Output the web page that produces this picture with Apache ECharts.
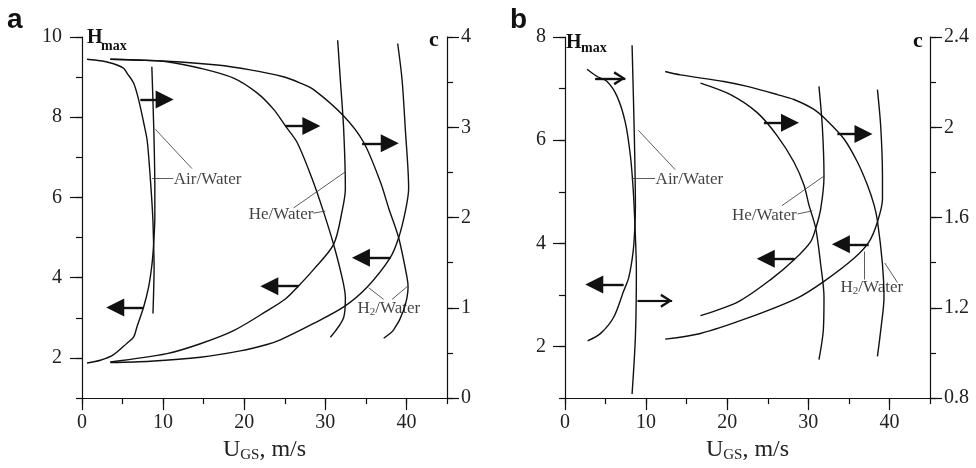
<!DOCTYPE html>
<html lang="en">
<head>
  <meta charset="UTF-8">
  <title>H_max and c vs U_GS</title>
  <style>
    html, body { margin: 0; padding: 0; background: #fff; }
    #chart { width: 976px; height: 468px; }
  </style>
</head>
<body>
  <div id="chart"></div>
  <script src="https://cdn.jsdelivr.net/npm/echarts@6/dist/echarts.min.js"></script>
  <script>
    // ---- panel a ----  [U_GS, c] for the "c" branches, [U_GS, H_max] for the "H" branches
    var airC_a = [[0.62, 3.753], [2.26, 3.737], [3.08, 3.723], [4.32, 3.69], [5.13, 3.654], [5.55, 3.6], [6.36, 3.49],
      [6.98, 3.307], [7.6, 3.053], [8.01, 2.87], [8.21, 2.687], [8.51, 2.323], [8.73, 1.995], [8.83, 1.702],
      [8.89, 1.447], [8.83, 1.174], [8.75, 0.937]];
    var airH_a = [[0.62, 1.876], [2.26, 1.943], [3.9, 2.083], [5.55, 2.369], [6.36, 2.517], [6.78, 2.78], [7.6, 3.272],
      [8.21, 3.765], [8.63, 4.338], [8.83, 4.831], [8.98, 5.51], [8.98, 6.23], [8.85, 7.7], [8.61, 9.26]];
    var heC_a = [[3.49, 3.753], [7.19, 3.743], [10.48, 3.726], [14.59, 3.654], [18.69, 3.545], [21.58, 3.381],
      [23.63, 3.198], [25.07, 3.015], [26.51, 2.834], [28.36, 2.432], [29.75, 2.071], [31.02, 1.702],
      [32.06, 1.338], [32.47, 1.112], [32.26, 0.893], [30.62, 0.674]];
    var heH_a = [[3.49, 1.9], [10.48, 2.108], [14.59, 2.354], [18.69, 2.681], [22.81, 3.174], [25.07, 3.469],
      [26.67, 3.789], [28.56, 4.208], [31.02, 4.831], [32.06, 5.653], [32.47, 6.226], [32.26, 7.704],
      [31.85, 8.935], [31.52, 9.92]];
    var h2C_a = [[3.49, 3.753], [10.48, 3.732], [16.65, 3.69], [20.75, 3.636], [24.7, 3.562], [26.92, 3.49],
      [28.56, 3.417], [32.26, 3.125], [34.72, 2.834], [36.78, 2.396], [37.81, 2.104], [39.04, 1.776],
      [40.07, 1.338], [40.2, 1.229], [39.65, 0.974], [38.42, 0.755], [37.19, 0.663]];
    var h2H_a = [[3.49, 1.886], [8.42, 1.918], [14.59, 2.017], [19.52, 2.177], [22.81, 2.337], [24.45, 2.452],
      [28.56, 2.861], [32.26, 3.272], [35.14, 3.765], [38.01, 4.503], [39.04, 4.996], [39.86, 5.653],
      [40.27, 6.226], [39.86, 7.704], [39.46, 8.935], [38.92, 9.838]];

    // ---- panel b ----
    var airC_b = [[2.72, 2.257], [3.95, 2.225], [5.19, 2.203], [6.42, 2.137], [7.44, 2.021], [8.06, 1.875],
      [8.4, 1.729], [8.62, 1.568], [8.8, 1.365], [8.68, 1.073], [8.27, 0.818]];
    var airH_b = [[2.79, 2.11], [4.36, 2.25], [6.0, 2.568], [7.23, 3.076], [7.85, 3.33], [8.4, 3.838], [8.62, 4.345],
      [8.68, 4.726], [8.56, 5.996], [8.27, 7.838]];
    var heC_b = [[16.7, 2.196], [20.41, 2.145], [23.7, 2.065], [26.17, 1.962], [28.22, 1.846], [29.46, 1.744],
      [30.07, 1.656], [30.9, 1.554], [31.52, 1.393], [31.93, 1.248], [31.85, 1.102], [31.31, 0.971]];
    var heH_b = [[16.7, 2.6], [21.4, 2.872], [25.51, 3.316], [28.31, 3.691], [30.28, 4.029], [30.9, 4.283],
      [31.52, 4.663], [31.93, 5.297], [31.73, 6.25], [31.31, 7.044]];
    var h2C_b = [[12.35, 2.247], [14.23, 2.232], [19.58, 2.203], [22.47, 2.181], [26.17, 2.145], [28.22, 2.123],
      [30.69, 2.079], [32.35, 2.028], [34.4, 1.948], [36.05, 1.846], [37.28, 1.744], [38.1, 1.656],
      [38.52, 1.585], [39.14, 1.393], [39.33, 1.248], [38.93, 1.102], [38.52, 0.985]];
    var h2H_b = [[12.35, 2.143], [16.7, 2.253], [22.47, 2.549], [28.64, 2.939], [31.93, 3.263], [35.63, 3.71],
      [37.48, 4.029], [38.52, 4.415], [39.14, 4.853], [39.14, 5.297], [38.93, 6.25], [38.52, 6.981]];

    // ---- axes ----
    var xTicks = [0, 5, 10, 15, 20, 25, 30, 35, 40, 45];
    var xLabels = [0, 10, 20, 30, 40];
    var hTicksA = [1, 2, 3, 4, 5, 6, 7, 8, 9, 10];
    var hLabelsA = [2, 4, 6, 8, 10];
    var cTicksA = [0, 0.5, 1, 1.5, 2, 2.5, 3, 3.5, 4];
    var cLabelsA = [0, 1, 2, 3, 4];
    var hTicksB = [1, 2, 3, 4, 5, 6, 7, 8];
    var hLabelsB = [2, 4, 6, 8];
    var cTicksB = [0.8, 1.0, 1.2, 1.4, 1.6, 1.8, 2.0, 2.2, 2.4];
    var cLabelsB = [0.8, 1.2, 1.6, 2, 2.4];

    // ---- annotations, in [U_GS, H_max] ----
    // arrows: [start, tip, level, kind]
    var arrowsA = [[7.19, 11.29, 8.44], [25.07, 29.38, 7.78], [34.53, 39.04, 7.35],
      [7.56, 3.0, 3.26], [26.71, 21.99, 3.79], [38.02, 33.29, 4.5]];
    var arrowsB = [[3.74, 7.44, 7.2, 'open'], [8.96, 13.21, 2.886, 'open'], [7.23, 2.51, 3.2],
      [24.52, 28.84, 6.34], [33.58, 37.9, 6.12], [28.31, 23.65, 3.7], [37.44, 32.91, 3.98]];
    var leadersA = [[8.63, 6.48, 11.26, 6.48], [9.04, 7.7, 13.56, 6.72], [28.52, 5.61, 30.0, 5.66],
      [26.09, 5.74, 32.47, 6.64], [35.34, 3.75, 37.19, 3.46], [38.22, 3.46, 40.15, 3.79]];
    var leadersB = [[8.22, 5.27, 11.11, 5.27], [9.05, 6.19, 13.58, 5.43], [28.68, 4.57, 30.49, 4.63],
      [26.74, 4.73, 31.89, 5.3], [36.86, 3.84, 36.86, 3.3], [39.42, 3.62, 40.99, 3.24]];
    var labelsA = [[11.26, 6.48, '{n|Air/Water}'], [20.5, 5.61, '{n|He/Water}'], [33.9, 3.27, '{n|H}{s|2}{n|/Water}']];
    var labelsB = [[11.11, 5.27, '{n|Air/Water}'], [20.53, 4.57, '{n|He/Water}'], [33.9, 3.18, '{n|H}{s|2}{n|/Water}']];

    var ink = '#111';
    var serif = 'Liberation Serif';
    var chevron = 'path://M0,9L5,0L10,9L8.4,10L5,3.4L1.6,10Z';

    function mainAxis(grid, pos, min, max, ticks, labels, margin) {
      return {
        type: 'value', gridIndex: grid, position: pos, min: min, max: max,
        axisLine: { show: true, onZero: false, lineStyle: { color: ink, width: 1.2 } },
        axisTick: { show: true, length: 6, customValues: ticks, lineStyle: { color: ink, width: 1.2 } },
        axisLabel: { customValues: labels, margin: margin, fontFamily: serif, fontSize: 20, color: '#222' },
        splitLine: { show: false }
      };
    }

    function majorAxis(grid, pos, min, max, labels) {
      return {
        type: 'value', gridIndex: grid, position: pos, min: min, max: max,
        axisLine: { show: false, onZero: false },
        axisTick: { show: true, length: 12, customValues: labels, lineStyle: { color: ink, width: 1.2 } },
        axisLabel: { show: false },
        splitLine: { show: false }
      };
    }

    function xAxisTitle(ax) {
      ax.name = '{u|U}{s|GS}{u|, m/s}';
      ax.nameLocation = 'middle';
      ax.nameGap = 36;
      ax.nameTextStyle = {
        color: '#222', fontFamily: serif,
        rich: {
          u: { fontFamily: serif, fontSize: 24, lineHeight: 25, verticalAlign: 'top', color: '#222' },
          s: { fontFamily: serif, fontSize: 15, lineHeight: 15, verticalAlign: 'bottom', color: '#222' }
        }
      };
      return ax;
    }

    function curve(data, xi, yi) {
      return {
        type: 'line', xAxisIndex: xi, yAxisIndex: yi, data: data,
        symbol: 'none', smooth: 0.3, silent: true,
        lineStyle: { color: ink, width: 1.4 }
      };
    }

    function annotations(xi, yi, arrows, leaders, labels) {
      var lines = [];
      leaders.forEach(function (l) {
        lines.push([
          { coord: [l[0], l[1]], symbol: 'none', lineStyle: { width: 0.8, color: '#333' } },
          { coord: [l[2], l[3]], symbol: 'none', lineStyle: { width: 0.8, color: '#333' } }
        ]);
      });
      arrows.forEach(function (a) {
        var dir = a[1] > a[0] ? 1 : -1;
        if (a[3] === 'open') {
          lines.push([
            { coord: [a[0], a[2]], symbol: 'none', lineStyle: { width: 2.2, color: ink } },
            { coord: [a[1], a[2]], symbol: 'none', lineStyle: { width: 2.2, color: ink } }
          ]);
          lines.push([
            { coord: [a[0], a[2]], symbol: 'none', lineStyle: { width: 2.2, color: ink } },
            { coord: [a[1] - dir * 0.72, a[2]], symbol: chevron, symbolSize: [14, 12], lineStyle: { width: 2.2, color: ink } }
          ]);
        } else {
          lines.push([
            { coord: [a[0], a[2]], symbol: 'none', lineStyle: { width: 2.4, color: ink } },
            { coord: [a[1] - dir * 1.1, a[2]], symbol: 'triangle', symbolSize: [18, 18], lineStyle: { width: 2.4, color: ink } }
          ]);
        }
      });
      return {
        type: 'scatter', xAxisIndex: xi, yAxisIndex: yi, silent: true,
        symbolSize: 1, itemStyle: { color: 'rgba(0,0,0,0)' },
        data: labels.map(function (t) { return { value: [t[0], t[1]], name: t[2] }; }),
        label: {
          show: true, position: 'right', distance: 0, offset: [0, 2],
          formatter: function (p) { return p.name; },
          rich: {
            n: { fontFamily: serif, fontSize: 17, lineHeight: 18, verticalAlign: 'top', color: ink },
            s: { fontFamily: serif, fontSize: 11, lineHeight: 11, verticalAlign: 'bottom', color: ink }
          }
        },
        markLine: {
          silent: true, animation: false, symbol: 'none', precision: 4,
          label: { show: false }, emphasis: { disabled: true },
          lineStyle: { type: 'solid', color: ink },
          data: lines
        }
      };
    }

    var chart = echarts.init(document.getElementById('chart'));

    var option = {
      animation: false,
      backgroundColor: '#fff',
      grid: [
        { left: 82, top: 37, width: 365, height: 365 },
        { left: 565, top: 37, width: 365, height: 365 }
      ],
      xAxis: [
        xAxisTitle(mainAxis(0, 'bottom', 0, 45, xTicks, xLabels, 15)),
        majorAxis(0, 'bottom', 0, 45, xLabels),
        xAxisTitle(mainAxis(1, 'bottom', 0, 45, xTicks, xLabels, 15)),
        majorAxis(1, 'bottom', 0, 45, xLabels)
      ],
      yAxis: [
        mainAxis(0, 'left', 1, 10, hTicksA, hLabelsA, 20),
        majorAxis(0, 'left', 1, 10, hLabelsA),
        mainAxis(0, 'right', 0, 4, cTicksA, cLabelsA, 14),
        majorAxis(0, 'right', 0, 4, cLabelsA),
        mainAxis(1, 'left', 1, 8, hTicksB, hLabelsB, 19),
        majorAxis(1, 'left', 1, 8, hLabelsB),
        mainAxis(1, 'right', 0.8, 2.4, cTicksB, cLabelsB, 14),
        majorAxis(1, 'right', 0.8, 2.4, cLabelsB)
      ],
      graphic: [
        { type: 'text', left: 7, top: 6, style: { text: 'a', font: 'bold 28px "Liberation Sans"', fill: ink } },
        { type: 'text', left: 510, top: 6, style: { text: 'b', font: 'bold 28px "Liberation Sans"', fill: ink } },
        { type: 'text', left: 87, top: 28, style: { text: 'H', font: 'bold 20px "Liberation Serif"', fill: ink } },
        { type: 'text', left: 101, top: 39, style: { text: 'max', font: 'bold 14px "Liberation Serif"', fill: ink } },
        { type: 'text', left: 429, top: 29, style: { text: 'c', font: 'bold 22px "Liberation Serif"', fill: ink } },
        { type: 'text', left: 566, top: 33, style: { text: 'H', font: 'bold 20px "Liberation Serif"', fill: ink } },
        { type: 'text', left: 581, top: 41, style: { text: 'max', font: 'bold 14px "Liberation Serif"', fill: ink } },
        { type: 'text', left: 913, top: 30, style: { text: 'c', font: 'bold 22px "Liberation Serif"', fill: ink } }
      ],
      series: [
        curve(airC_a, 0, 2), curve(airH_a, 0, 0),
        curve(heC_a, 0, 2), curve(heH_a, 0, 0),
        curve(h2C_a, 0, 2), curve(h2H_a, 0, 0),
        annotations(0, 0, arrowsA, leadersA, labelsA),
        curve(airC_b, 2, 6), curve(airH_b, 2, 4),
        curve(heC_b, 2, 6), curve(heH_b, 2, 4),
        curve(h2C_b, 2, 6), curve(h2H_b, 2, 4),
        annotations(2, 4, arrowsB, leadersB, labelsB)
      ]
    };

    chart.setOption(option);
  </script>
</body>
</html>
